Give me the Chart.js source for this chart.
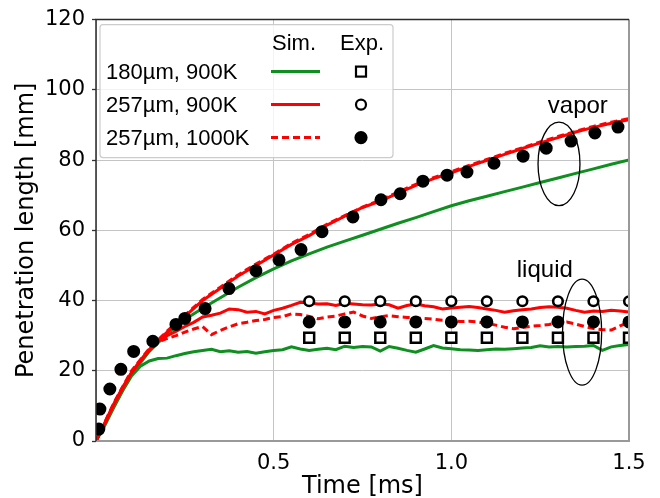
<!DOCTYPE html>
<html><head><meta charset="utf-8">
<script src="https://cdn.jsdelivr.net/npm/chart.js@4.4.1/dist/chart.umd.min.js"></script>
<style>html,body{margin:0;padding:0;background:#fff}#wrap{width:660px;height:498px;position:relative}</style>
</head><body><div id="wrap"><canvas id="c" width="660" height="498"></canvas></div>
<script>
// ---- data ----
const xTicks = [0.5, 1.0, 1.5];
const yTicks = [0, 20, 40, 60, 80, 100, 120];

const vaporTimes = [0,0.05,0.1,0.15,0.2,0.25,0.3,0.35,0.4,0.45,0.5,0.55,0.6,0.65,0.7,0.75,0.8,0.85,0.9,0.95,1.0,1.05,1.1,1.15,1.2,1.25,1.3,1.35,1.4,1.45,1.5];
const simVapor180_900 = [0,10,19,25.5,30.5,34.6,37.8,40.8,43.8,46.5,49.0,51.3,53.3,55.2,56.9,58.6,60.3,62,63.6,65.3,67,68.4,69.7,71,72.3,73.6,74.9,76.2,77.5,78.8,80];
const simVapor257_900 = [0,10.5,19.5,26,31,35.5,40,43.5,47,50,53,56,58.5,61.5,64,66.5,68.3,70.6,72.8,74.7,76.4,78.2,79.9,81.6,83.3,84.9,86.4,88,89.3,90.5,91.5];
const simVapor257_1000 = [0,10.8,20,26.3,31.3,35.8,40.3,43.8,47.3,50.4,53.2,56.3,58.8,61.7,64.2,66.6,68.6,70.9,73.1,75.0,76.7,78.5,80.2,81.9,83.5,85.2,86.7,88.2,89.6,90.8,91.8];

const liquidTimes = [0,0.025,0.05,0.075,0.1,0.125,0.15,0.175,0.2,0.225,0.25,0.275,0.3,0.325,0.35,0.375,0.4,0.425,0.45,0.475,0.5,0.525,0.55,0.575,0.6,0.625,0.65,0.675,0.7,0.725,0.75,0.775,0.8,0.825,0.85,0.875,0.9,0.925,0.95,0.975,1.0,1.025,1.05,1.075,1.1,1.125,1.15,1.175,1.2,1.225,1.25,1.275,1.3,1.325,1.35,1.375,1.4,1.425,1.45,1.475,1.5];
const simLiquid180_900 = [0,4.5,9.5,14.3,18.5,21.3,22.8,23.5,23.6,24.3,24.9,25.4,25.8,26.1,25.4,25.7,25.3,25.5,25.0,25.4,25.8,26.0,26.8,26.2,25.8,26.1,26.4,26.0,27.0,26.6,26.9,26.8,25.6,26.9,26.4,25.8,25.3,26.2,27.2,26.5,26.3,26.0,25.9,25.8,26.0,26.2,26.1,26.3,26.5,26.6,27.1,26.8,26.9,26.8,26.9,27.0,27.2,25.8,26.8,27.2,27.5];
const simLiquid257_900 = [0,5,10.5,15.3,19.5,23,26,28.6,30,31.2,32.6,33.8,35.3,35.8,36.4,37.6,37.4,36.7,36.9,36.2,37.2,37.8,38.6,39.5,39.3,39.0,39.1,38.6,39.2,39.0,38.8,38.7,39.0,38.8,37.8,38.6,39.0,38.5,38.2,37.6,37.9,38.1,38.3,38.0,37.6,37.2,36.7,37.1,37.4,37.6,38.0,38.2,38.1,37.8,37.2,36.7,37.0,36.9,37.2,37.0,36.7];
const simLiquid257_1000 = [0,5,10.5,15.3,19.5,23,25.8,28.2,29.2,30.0,31.0,31.9,32.6,30.3,31.5,32.5,33.4,33.8,34.3,34.6,35.2,35.4,36.2,36.0,35.5,34.8,35.3,35.6,36.2,36.7,35.6,34.9,35.4,35.7,35.4,35.2,35.0,34.9,34.7,34.4,34.3,34.0,34.1,33.9,33.5,33.0,32.4,32.0,32.3,32.7,32.9,33.2,33.6,33.9,33.3,32.6,32.0,31.7,31.6,32.8,33.9];

const expVaporTimes = [0.008,0.011,0.039,0.070,0.106,0.160,0.225,0.250,0.307,0.374,0.450,0.515,0.577,0.636,0.723,0.802,0.856,0.920,0.988,1.044,1.120,1.202,1.267,1.337,1.404,1.469];
const expVapor257_1000 = [3.4,9.1,14.8,20.4,25.5,28.4,33.2,34.9,37.7,43.4,48.5,51.6,54.5,59.6,63.8,68.7,70.4,74.0,75.7,76.6,79.1,81.1,83.4,85.4,87.7,89.4];

const expLiquidTimes = [0.6,0.7,0.8,0.9,1.0,1.1,1.2,1.3,1.4,1.5];
const expLiquid180_900 = [29.4,29.4,29.4,29.4,29.4,29.4,29.4,29.4,29.4,29.4];
const expLiquid257_900 = [39.8,39.8,39.8,39.8,39.8,39.8,39.8,39.8,39.8,39.8];
const expLiquid257_1000 = [33.9,33.9,33.9,33.9,33.9,33.9,33.9,33.9,33.9,33.9];

const legendRows = ['180\u00b5m, 900K', '257\u00b5m, 900K', '257\u00b5m, 1000K'];
const annotations = [
  {text:'vapor', cx:1.303, cy:78.9, rx:0.059, ry:11.9, tx:1.356, ty:95.3},
  {text:'liquid', cx:1.368, cy:31.0, rx:0.055, ry:15.1, tx:1.263, ty:48.5}
];

// ---- style ----
const GREEN = '#0f8f1f', RED = '#ff0000';
const pts = (xs, ys) => xs.map((x, i) => ({x, y: ys[i]}));
const lineDs = (label, xs, ys, color, dash, order) => ({
  label, data: pts(xs, ys), showLine: true, borderColor: color, backgroundColor: color,
  borderWidth: 3, borderDash: dash || [], pointRadius: 0, pointHoverRadius: 0, fill: false,
  tension: 0, order
});
const markDs = (label, xs, ys, style, fillCol, r, bw, order) => ({
  label, data: pts(xs, ys), showLine: false, pointStyle: style, pointRadius: r,
  pointBackgroundColor: fillCol, pointBorderColor: '#000', pointBorderWidth: bw, order
});

const datasets = [
  lineDs('sim vapor 180 900', vaporTimes, simVapor180_900, GREEN, null, 10),
  lineDs('sim liquid 180 900', liquidTimes, simLiquid180_900, GREEN, null, 9),
  lineDs('sim vapor 257 900', vaporTimes, simVapor257_900, RED, null, 8),
  lineDs('sim liquid 257 900', liquidTimes, simLiquid257_900, RED, null, 7),
  lineDs('sim vapor 257 1000', vaporTimes, simVapor257_1000, RED, [7,4], 6),
  lineDs('sim liquid 257 1000', liquidTimes, simLiquid257_1000, RED, [7,4], 5),
  markDs('exp liquid 180 900', expLiquidTimes, expLiquid180_900, 'rect', '#fff', 7, 2.5, 2),
  markDs('exp liquid 257 900', expLiquidTimes, expLiquid257_900, 'circle', '#fff', 4.8, 2.6, 1),
  markDs('exp liquid 257 1000', expLiquidTimes, expLiquid257_1000, 'circle', '#000', 5.5, 2, 0),
  markDs('exp vapor 257 1000', expVaporTimes, expVapor257_1000, 'circle', '#000', 5.5, 2, 0)
];

const overlay = {
  id: 'overlay',
  afterDatasetsDraw(chart) {
    const {ctx, chartArea: a, scales: {x, y}} = chart;
    ctx.save();
    // spines
    ctx.lineCap = 'butt';
    ctx.strokeStyle = '#999'; ctx.lineWidth = 2;
    ctx.beginPath(); ctx.moveTo(a.left, a.bottom); ctx.lineTo(a.right, a.bottom); ctx.lineTo(a.right, a.top); ctx.stroke();
    ctx.strokeStyle = '#2a2a2a'; ctx.lineWidth = 1.5;
    ctx.beginPath(); ctx.moveTo(a.right, a.top); ctx.lineTo(a.left, a.top); ctx.lineTo(a.left, a.bottom); ctx.stroke();
    // ellipses and annotation text
    ctx.strokeStyle = '#000'; ctx.lineWidth = 1.3;
    ctx.fillStyle = '#000';
    ctx.font = '24px "Liberation Sans", Arial, sans-serif';
    ctx.textAlign = 'center'; ctx.textBaseline = 'middle';
    annotations.forEach(an => {
      const cx = x.getPixelForValue(an.cx), cy = y.getPixelForValue(an.cy);
      const rx = x.getPixelForValue(an.cx + an.rx) - cx;
      const ry = cy - y.getPixelForValue(an.cy + an.ry);
      ctx.beginPath(); ctx.ellipse(cx, cy, rx, ry, 0, 0, Math.PI * 2); ctx.stroke();
      ctx.fillText(an.text, x.getPixelForValue(an.tx), y.getPixelForValue(an.ty));
    });
    // legend
    const lx = a.left + 4, ly = a.top + 5, lw = 293, lh = 133;
    ctx.beginPath();
    if (ctx.roundRect) ctx.roundRect(lx, ly, lw, lh, 3); else ctx.rect(lx, ly, lw, lh);
    ctx.fillStyle = 'rgba(255,255,255,0.8)'; ctx.fill();
    ctx.strokeStyle = '#cccccc'; ctx.lineWidth = 1.2; ctx.stroke();
    ctx.fillStyle = '#000';
    ctx.font = '22px "Liberation Sans", Arial, sans-serif';
    ctx.textBaseline = 'middle'; ctx.textAlign = 'center';
    ctx.fillText('Sim.', lx + 194, ly + 19);
    ctx.fillText('Exp.', lx + 262, ly + 19);
    ctx.textAlign = 'left';
    const rowY = [ly + 47, ly + 80, ly + 113];
    const lineCols = [GREEN, RED, RED], lineDash = [[], [], [7,4]];
    legendRows.forEach((t, i) => {
      ctx.fillStyle = '#000';
      ctx.fillText(t, lx + 6, rowY[i] + 1);
      ctx.strokeStyle = lineCols[i]; ctx.lineWidth = 3; ctx.setLineDash(lineDash[i]);
      ctx.beginPath(); ctx.moveTo(lx + 171, rowY[i]); ctx.lineTo(lx + 220, rowY[i]); ctx.stroke();
      ctx.setLineDash([]);
      const mx = lx + 261, my = rowY[i];
      ctx.strokeStyle = '#000'; ctx.lineWidth = 2.2;
      if (i === 0) { ctx.fillStyle = '#fff'; ctx.fillRect(mx - 5, my - 5, 10, 10); ctx.strokeRect(mx - 5, my - 5, 10, 10); }
      else if (i === 1) { ctx.beginPath(); ctx.arc(mx, my, 5, 0, Math.PI * 2); ctx.fillStyle = '#fff'; ctx.fill(); ctx.stroke(); }
      else { ctx.beginPath(); ctx.arc(mx, my, 5.5, 0, Math.PI * 2); ctx.fillStyle = '#000'; ctx.fill(); ctx.stroke(); }
    });
    ctx.restore();
  }
};

new Chart(document.getElementById('c'), {
  type: 'scatter',
  data: { datasets },
  options: {
    responsive: false, animation: false, events: [],
    layout: { padding: { top: 18, right: 31, left: 0, bottom: 0 } },
    plugins: { legend: { display: false }, tooltip: { enabled: false } },
    scales: {
      x: {
        type: 'linear', min: 0, max: 1.5,
        afterBuildTicks: s => { s.ticks = [0].concat(xTicks).map(v => ({value: v})); },
        afterFit: s => { s.height = 57; },
        border: { display: false },
        grid: { color: '#c4c4c4', borderDash: [3, 2], lineWidth: 1, drawTicks: false },
        ticks: { padding: 10, color: '#000', font: { family: '"DejaVu Sans"', size: 21 },
                 callback: v => v === 0 ? '' : Number(v).toFixed(1), maxRotation: 0, autoSkip: false },
        title: { display: true, text: 'Time [ms]', color: '#000', font: { family: '"DejaVu Sans"', size: 24, lineHeight: 0.9 }, padding: { top: 0, bottom: 0 } }
      },
      y: {
        type: 'linear', min: 0, max: 120,
        afterBuildTicks: s => { s.ticks = yTicks.map(v => ({value: v})); },
        afterFit: s => { s.width = 96; },
        border: { display: false },
        grid: { color: '#c4c4c4', borderDash: [3, 2], lineWidth: 1, drawTicks: true, tickLength: 4,
                tickColor: '#333', tickBorderDash: [], tickWidth: 1.3 },
        ticks: { padding: 7, color: '#000', font: { family: '"DejaVu Sans"', size: 21 } },
        title: { display: true, text: 'Penetration length [mm]', color: '#000', font: { family: '"DejaVu Sans"', size: 24, lineHeight: 1 }, padding: { top: 15, bottom: 0 } }
      }
    }
  },
  plugins: [overlay]
});
</script></body></html>
